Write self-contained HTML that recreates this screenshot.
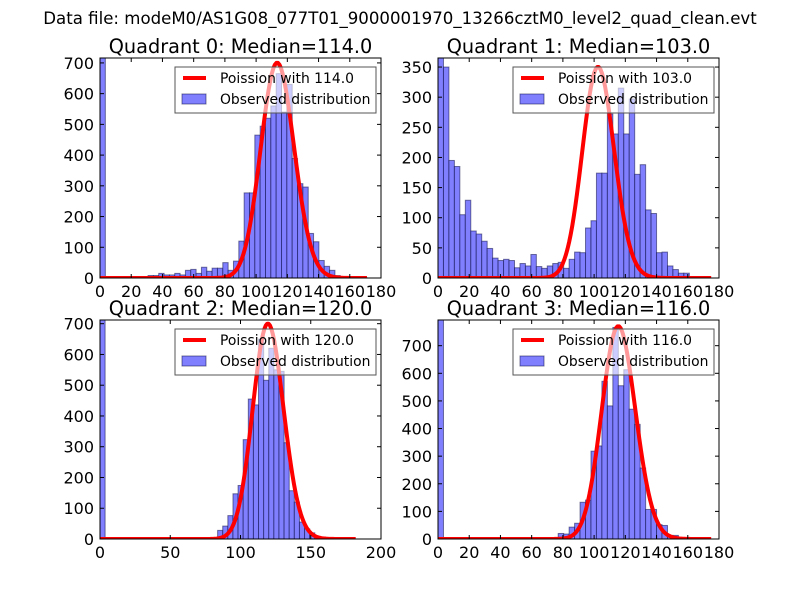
<!DOCTYPE html>
<html><head><meta charset="utf-8"><style>
html,body{margin:0;padding:0;background:#fff;}
svg{display:block;font-family:"DejaVu Sans","Liberation Sans",sans-serif;}
</style></head><body>
<svg id="fig" width="800" height="600" viewBox="0 0 800 600">
<text x="400" y="24" text-anchor="middle" font-size="16.6">Data file: modeM0/AS1G08_077T01_9000001970_13266cztM0_level2_quad_clean.evt</text>
</svg>
<script>
// ---- data ----
const quadrantNames = ["Quadrant 0","Quadrant 1","Quadrant 2","Quadrant 3"];
const medians = [114.0, 103.0, 120.0, 116.0];
const dataMax = [171, 175, 182, 175];
const q0Counts = [716,0,0,0,0,0,0,0,0,8,8,15,10,10,15,10,25,28,15,35,22,32,32,50,25,55,120,277,277,465,494,520,560,665,540,630,389,307,296,145,118,57,38,25,8,4,2,1,1,1];
const q1Counts = [365,350,195,185,105,129,78,73,61,49,33,29,31,29,17,24,20,39,19,16,20,24,26,16,31,43,42,83,95,174,174,272,239,315,239,297,172,188,113,107,42,43,20,14,8,8,2,1,0,0];
const q2Counts = [712,0,0,0,0,0,0,0,0,0,0,0,0,0,0,0,0,0,0,0,0,1,2,28,42,76,147,174,323,455,436,650,516,620,550,545,313,157,120,55,33,20,8,4,2,1,0,0,0,0];
const q3Counts = [793,3,5,2,0,0,0,0,0,0,0,0,0,0,0,0,0,0,0,0,0,1,20,18,43,57,133,141,318,337,571,482,766,555,613,470,415,257,107,107,52,49,13,13,3,1,0,0,0,0];
const poissonPeak = [700, 350, 700, 770];
const xTickLabels = [[0,20,40,60,80,100,120,140,160,180],[0,20,40,60,80,100,120,140,160,180],[0,50,100,150,200],[0,20,40,60,80,100,120,140,160,180]];
const yTickLabels = [[0,100,200,300,400,500,600,700],[0,50,100,150,200,250,300,350],[0,100,200,300,400,500,600,700],[0,100,200,300,400,500,600,700]];
const xLimMax = [180,180,200,180];

const allCounts = [q0Counts,q1Counts,q2Counts,q3Counts];
const boxes = [[100,58,381,278],[438,58,719,278],[100,320,381,539],[438,320,719,539]];
const NS = "http://www.w3.org/2000/svg";
const svg = document.getElementById('fig');
function mk(tag, attrs, parent){const e=document.createElementNS(NS,tag);for(const k in attrs)e.setAttribute(k,attrs[k]);(parent||svg).appendChild(e);return e;}
function lgamma(n){let s=0;for(let i=2;i<=n;i++)s+=Math.log(i);return s;}
function pmf(k,m){return Math.exp(k*Math.log(m)-m-lgamma(k));}

for(let q=0;q<4;q++){
  const [L,T,R,B]=boxes[q];
  const counts=allCounts[q];
  const ymax=Math.max(...counts);
  const xs=v=>L+(v/xLimMax[q])*(R-L);
  const ys=v=>B-(v/ymax)*(B-T);
  const g=mk('g',{});
  
  
  const clipId='clip'+q;
  const cp=mk('clipPath',{id:clipId},g);
  mk('rect',{x:L,y:T,width:R-L,height:B-T},cp);
  const plot=mk('g',{'clip-path':'url(#'+clipId+')'},g);
  const bw=dataMax[q]/counts.length;
  counts.forEach((c,i)=>{
    if(c<=0)return;
    const x0=xs(i*bw),x1=xs((i+1)*bw);
    const r=mk('rect',{x:x0,y:ys(c),width:x1-x0,height:B-ys(c),fill:'rgb(128,128,255)',stroke:'rgba(0,0,60,0.5)','stroke-width':1},plot);
    
    
  });
  const m=medians[q];const pk=pmf(Math.round(m),m);
  let pts=[];
  for(let k=0;k<=dataMax[q];k++){pts.push(xs(k).toFixed(2)+','+ys(poissonPeak[q]*pmf(k,m)/pk).toFixed(2));}
  const pl=mk('polyline',{points:pts.join(' '),fill:'none',stroke:'#ff0000','stroke-width':4,'stroke-linejoin':'round'},plot);
  
  
  xTickLabels[q].forEach(v=>{
    const x=xs(v);
    mk('line',{x1:x,y1:B,x2:x,y2:B-4,stroke:'#000'},g);
    mk('line',{x1:x,y1:T,x2:x,y2:T+4,stroke:'#000'},g);
    const t=mk('text',{x:x,y:B+19,'text-anchor':'middle','font-size':16},g);
    t.textContent=v;
    
    
  });
  yTickLabels[q].forEach(v=>{
    const y=ys(v);
    mk('line',{x1:L,y1:y,x2:L+4,y2:y,stroke:'#000'},g);
    mk('line',{x1:R,y1:y,x2:R-4,y2:y,stroke:'#000'},g);
    const t=mk('text',{x:L-6,y:y+6,'text-anchor':'end','font-size':16},g);
    t.textContent=v;
    
    
  });
  const lx=R-206,ly=T+9;
  const lg=mk('g',{},g);
  
  
  mk('rect',{x:lx,y:ly,width:201,height:46,fill:'rgba(255,255,255,0.6)',stroke:'#555','stroke-width':1},lg);
  mk('line',{x1:lx+8,y1:ly+11,x2:lx+31,y2:ly+11,stroke:'#ff0000','stroke-width':4},lg);
  const t1=mk('text',{x:lx+45,y:ly+16,'font-size':13.9},lg);t1.textContent='Poission with '+m.toFixed(1);
  
  
  mk('rect',{x:lx+7,y:ly+27,width:24,height:10,fill:'rgb(128,128,255)',stroke:'rgba(0,0,60,0.5)'},lg);
  const t2=mk('text',{x:lx+45,y:ly+37,'font-size':13.9},lg);t2.textContent='Observed distribution';
  
  
  mk('rect',{x:L,y:T,width:R-L,height:B-T,fill:'none',stroke:'#000','stroke-width':1},g);
  const tt=mk('text',{x:(L+R)/2,y:T-5,'text-anchor':'middle','font-size':19.3},g);
  tt.textContent=quadrantNames[q]+': Median='+m.toFixed(1);
  
  
}
</script>
</body></html>
